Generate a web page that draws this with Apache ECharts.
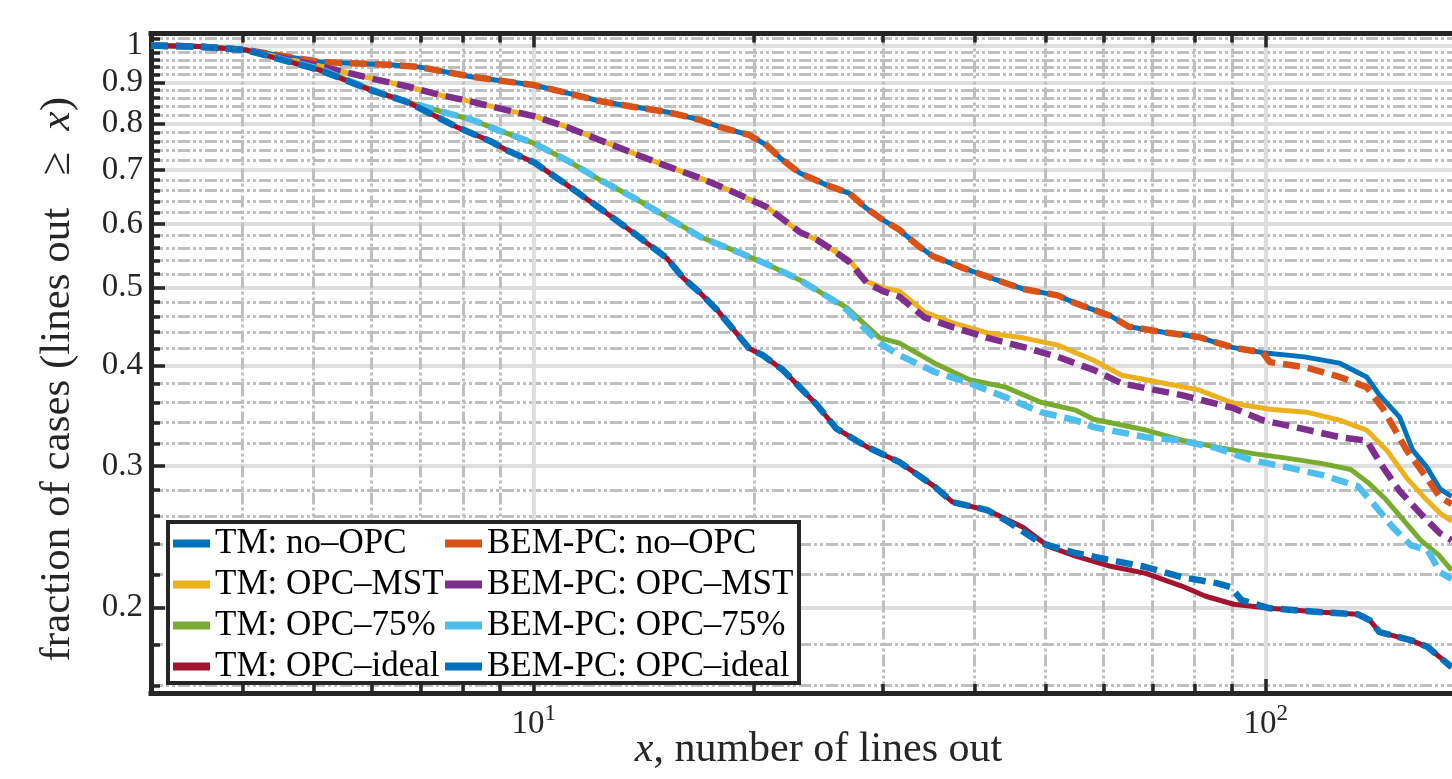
<!DOCTYPE html>
<html><head><meta charset="utf-8">
<script src="https://cdn.jsdelivr.net/npm/echarts@6/dist/echarts.min.js"></script>
<style>html,body{margin:0;padding:0;background:#fff}#c{width:1452px;height:779px}</style>
</head><body><div id="c"></div>
<script>
// ---- tick values ----
const xMajorTicks = [10, 100];
const xMinorTicks = [4, 5, 6, 7, 8, 9, 20, 30, 40, 50, 60, 70, 80, 90];
const yMajorTicks = [0.2, 0.3, 0.4, 0.5, 0.6, 0.7, 0.8, 0.9, 1];
const yMinorTicks = [0.16, 0.18, 0.22, 0.24, 0.26, 0.28, 0.32, 0.34, 0.36, 0.38,
  0.42, 0.44, 0.46, 0.48, 0.52, 0.54, 0.56, 0.58, 0.62, 0.64, 0.66, 0.68,
  0.72, 0.74, 0.76, 0.78, 0.82, 0.84, 0.86, 0.88, 0.92, 0.94, 0.96, 0.98, 1.02];

// ---- series names ----
const seriesNames = ['TM: no–OPC', 'TM: OPC–MST', 'TM: OPC–75%', 'TM: OPC–ideal',
  'BEM-PC: no–OPC', 'BEM-PC: OPC–MST', 'BEM-PC: OPC–75%', 'BEM-PC: OPC–ideal'];

// ---- data: [x, fraction] ----
const tmNoOpc = [[3,1.0],[3.5,0.997],[4.05,0.987],[5.1,0.954],[6.42,0.946],[7.0,0.940],[8.25,0.914],[10,0.893],[11.1,0.873],[12.3,0.853],[13.65,0.839],[15.2,0.827],[16.9,0.808],[17.95,0.792],[19.7,0.774],[20.8,0.752],[21.9,0.720],[23.1,0.694],[25.1,0.671],[27.0,0.655],[28.5,0.627],[30.0,0.607],[31.6,0.590],[33.4,0.565],[35.1,0.547],[38.6,0.529],[42.9,0.511],[46.6,0.498],[52.0,0.489],[55.0,0.478],[61.4,0.461],[65.0,0.447],[72.6,0.440],[81.0,0.434],[85.7,0.427],[90.4,0.421],[99.1,0.415],[113.0,0.410],[126.2,0.4027],[137.4,0.3871],[143.1,0.3675],[152.4,0.3451],[158.8,0.3139],[166.0,0.299],[173.0,0.281],[179.5,0.275]];
const tmMst = [[3,1.0],[3.5,0.997],[4.05,0.987],[5.1,0.943],[6.03,0.909],[6.71,0.890],[7.44,0.868],[8.25,0.851],[9.19,0.831],[10,0.817],[11.1,0.792],[12.3,0.763],[13.65,0.735],[15.2,0.708],[16.9,0.684],[18.35,0.663],[19.7,0.644],[20.8,0.630],[21.9,0.608],[23.1,0.586],[24.4,0.573],[25.6,0.557],[27.0,0.541],[28.5,0.509],[30.0,0.4995],[31.6,0.495],[34.2,0.466],[37.35,0.452],[41.7,0.439],[46.6,0.433],[52.0,0.424],[58.2,0.406],[63.6,0.389],[68.6,0.384],[81.0,0.373],[90.4,0.359],[101.3,0.353],[113.8,0.350],[126.2,0.342],[137.4,0.3325],[146.3,0.3139],[155.8,0.290],[166.0,0.2721],[173.0,0.2621],[179.5,0.2562]];
const tm75 = [[3,1.0],[3.5,0.997],[4.05,0.987],[5.1,0.935],[6.03,0.880],[6.71,0.851],[7.44,0.829],[8.25,0.808],[9.0,0.783],[10,0.756],[11.1,0.720],[12.3,0.681],[13.65,0.648],[15.2,0.612],[16.9,0.578],[18.7,0.557],[20.8,0.535],[23.1,0.511],[25.6,0.483],[26.8,0.472],[28.2,0.452],[29.7,0.433],[31.6,0.4265],[35.3,0.4027],[39.4,0.384],[44.1,0.376],[49.3,0.360],[55.0,0.352],[58.2,0.343],[68.6,0.3325],[76.8,0.323],[85.7,0.3166],[95.7,0.311],[106.8,0.3068],[119.6,0.302],[130.7,0.297],[137.8,0.2864],[145.8,0.2729],[154.3,0.2569],[162.8,0.2426],[172.4,0.2324],[179.5,0.2225]];
const tmIdeal = [[3,1.0],[3.5,0.997],[4.05,0.987],[5.1,0.932],[6.03,0.878],[6.71,0.851],[7.28,0.820],[7.85,0.792],[8.71,0.761],[9.19,0.741],[10,0.716],[11.1,0.671],[12.3,0.628],[13.65,0.586],[15.2,0.544],[16.0,0.514],[16.9,0.492],[17.8,0.469],[19.7,0.420],[20.55,0.412],[21.9,0.395],[24.4,0.357],[25.9,0.334],[28.5,0.317],[31.6,0.3033],[35.3,0.2828],[37.35,0.2705],[41.7,0.2643],[46.6,0.2518],[50.4,0.2385],[55.0,0.2317],[61.4,0.2251],[68.6,0.2206],[76.8,0.2127],[82.8,0.2066],[90.4,0.2019],[101.3,0.1996],[119.6,0.1973],[133.6,0.1962],[138.7,0.1929],[143.1,0.1864],[157.8,0.1822],[166.5,0.1786],[173.0,0.1735],[179.5,0.1686]];
const bemNoOpc = [[3,1.0],[3.5,0.997],[4.05,0.987],[5.1,0.954],[6.42,0.946],[7.0,0.940],[8.25,0.914],[10,0.893],[11.1,0.873],[12.3,0.853],[13.65,0.839],[15.2,0.827],[16.9,0.808],[17.95,0.792],[19.7,0.774],[20.8,0.752],[21.9,0.720],[23.1,0.694],[25.1,0.671],[27.0,0.655],[28.5,0.627],[30.0,0.607],[31.6,0.590],[33.4,0.565],[35.1,0.547],[38.6,0.529],[42.9,0.511],[46.6,0.498],[52.0,0.489],[55.0,0.478],[61.4,0.461],[65.0,0.447],[72.6,0.440],[81.0,0.434],[85.7,0.427],[90.4,0.421],[99.1,0.415],[101.3,0.4039],[113.0,0.3982],[126.2,0.3871],[137.4,0.376],[144.5,0.354],[155.8,0.3139],[166.0,0.290],[173.0,0.2744],[179.5,0.269]];
const bemMst = [[3,1.0],[3.5,0.997],[4.05,0.987],[5.1,0.943],[6.03,0.909],[6.71,0.890],[7.44,0.868],[8.25,0.851],[9.19,0.831],[10,0.817],[11.1,0.792],[12.3,0.763],[13.65,0.735],[15.2,0.708],[16.9,0.684],[18.35,0.663],[19.7,0.644],[20.8,0.630],[21.9,0.608],[23.1,0.586],[24.4,0.573],[25.6,0.557],[27.0,0.538],[28.5,0.507],[30.0,0.495],[31.6,0.487],[34.2,0.459],[37.35,0.4465],[41.7,0.433],[46.6,0.422],[52.0,0.410],[58.2,0.395],[63.6,0.380],[76.8,0.3675],[90.4,0.354],[99.1,0.342],[111.3,0.3343],[126.2,0.3258],[137.4,0.3226],[143.6,0.302],[152.4,0.2792],[166.0,0.2569],[173.0,0.2474],[179.5,0.2425]];
const bem75 = [[3,1.0],[3.5,0.997],[4.05,0.987],[5.1,0.935],[6.03,0.880],[6.71,0.851],[7.44,0.829],[8.25,0.808],[9.0,0.783],[10,0.756],[11.1,0.720],[12.3,0.681],[13.65,0.648],[15.2,0.612],[16.9,0.578],[18.7,0.557],[20.8,0.535],[23.1,0.511],[25.6,0.483],[26.8,0.469],[28.2,0.4465],[29.7,0.4265],[31.6,0.412],[35.3,0.3926],[39.4,0.3803],[44.1,0.3653],[49.3,0.350],[55.0,0.342],[58.2,0.3353],[68.6,0.3258],[76.8,0.3226],[85.7,0.3157],[95.7,0.305],[106.8,0.299],[119.6,0.2922],[133.6,0.2832],[140.9,0.2682],[149.1,0.2518],[157.8,0.2392],[166.5,0.2358],[173.0,0.2214],[179.5,0.217]];
const bemIdeal = [[3,1.0],[3.5,0.997],[4.05,0.987],[5.1,0.932],[6.03,0.878],[6.71,0.851],[7.28,0.820],[7.85,0.792],[8.71,0.761],[9.19,0.741],[10,0.716],[11.1,0.671],[12.3,0.628],[13.65,0.586],[15.2,0.544],[16.0,0.514],[16.9,0.492],[17.8,0.469],[19.7,0.420],[20.55,0.412],[21.9,0.395],[24.4,0.357],[25.9,0.334],[28.5,0.317],[31.6,0.3033],[35.3,0.2828],[37.35,0.2705],[41.7,0.2643],[44.1,0.2569],[49.3,0.2406],[55.0,0.2338],[61.4,0.2291],[68.6,0.2246],[76.8,0.2182],[85.7,0.2145],[89.6,0.212],[92.7,0.2043],[101.3,0.1996],[119.6,0.1973],[133.6,0.1962],[138.7,0.1929],[143.1,0.1864],[157.8,0.1822],[166.5,0.1786],[173.0,0.1735],[179.5,0.1686]];

const seriesData = [tmNoOpc, tmMst, tm75, tmIdeal, bemNoOpc, bemMst, bem75, bemIdeal];
const seriesColors = ['#0072BD', '#EDB120', '#77AC30', '#A2142F', '#D95319', '#7E2F8E', '#4DBEEE', '#0072BD'];

const FONT = "'Liberation Serif', 'Times New Roman', serif";
const AX = '#262626';
const X_MIN = 3, X_MAX = 200, Y_MIN = 0.1566, Y_MAX = 1.035;
const minorDash = [12, 3, 3, 3, 3, 3];
const MINOR_GRID = '#bfbfbf';
const MAJOR_GRID = '#dedede';

function xAxisDef(pos, major, withLine) {
  return {
    type: 'log', logBase: 10, min: X_MIN, max: X_MAX, position: pos, gridIndex: 0,
    axisLine: { show: withLine, onZero: false, lineStyle: { color: AX, width: 5, cap: 'square' } },
    axisTick: { show: true, inside: true, length: major ? 14 : 9, customValues: major ? xMajorTicks : xMinorTicks,
      lineStyle: { color: AX, width: 3.5 } },
    minorTick: { show: false },
    axisLabel: { show: false },
    splitLine: { show: pos === 'bottom', lineStyle: major ? { color: MAJOR_GRID, width: 4 } : { color: MINOR_GRID, width: 3, type: minorDash } },
    minorSplitLine: { show: false }
  };
}

const xAxes = [xAxisDef('bottom', false, false), xAxisDef('bottom', true, true), xAxisDef('top', false, false), xAxisDef('top', true, true)];
xAxes[1].axisLabel = {
  show: true, customValues: xMajorTicks, margin: 9,
  formatter: v => '{b|10}{s|' + Math.round(Math.log10(v)) + '}',
  rich: {
    b: { fontFamily: FONT, fontSize: 33, color: AX, lineHeight: 44 },
    s: { fontFamily: FONT, fontSize: 23, color: AX, lineHeight: 20, verticalAlign: 'top' }
  }
};
xAxes[1].name = '{i|x}, number of lines out';
xAxes[1].nameLocation = 'middle';
xAxes[1].nameGap = 36;
xAxes[1].nameMoveOverlap = false;
xAxes[1].nameTextStyle = { fontFamily: FONT, fontSize: 42, color: AX,
  rich: { i: { fontFamily: FONT, fontSize: 42, fontStyle: 'italic', color: AX } } };

function yAxisDef(major) {
  return {
    type: 'log', logBase: 10, min: Y_MIN, max: Y_MAX, position: 'left', gridIndex: 0,
    axisLine: { show: major, onZero: false, lineStyle: { color: AX, width: 5, cap: 'square' } },
    axisTick: { show: true, inside: true, length: major ? 14 : 9, customValues: major ? yMajorTicks : yMinorTicks,
      lineStyle: { color: AX, width: 3.5 } },
    minorTick: { show: false },
    axisLabel: { show: false },
    splitLine: { show: true, lineStyle: major ? { color: MAJOR_GRID, width: 4 } : { color: MINOR_GRID, width: 3, type: minorDash } },
    minorSplitLine: { show: false }
  };
}
const yAxes = [yAxisDef(false), yAxisDef(true)];
yAxes[1].axisLabel = {
  show: true, customValues: yMajorTicks, margin: 8,
  fontFamily: FONT, fontSize: 33, color: AX,
  formatter: v => String(Math.round(v * 10) / 10)
};
yAxes[1].name = 'fraction of cases (lines out \u2002≥\u2002{i|x})';
yAxes[1].nameLocation = 'middle';
yAxes[1].nameGap = 72;
yAxes[1].nameMoveOverlap = false;
yAxes[1].nameTextStyle = { fontFamily: FONT, fontSize: 43, color: AX, padding: [0, 32, 0, 0],
  rich: { i: { fontFamily: FONT, fontSize: 43, fontStyle: 'italic', color: AX } } };

const series = seriesData.map((d, i) => ({
  type: 'line', name: seriesNames[i], data: d, xAxisIndex: 0, yAxisIndex: 0,
  showSymbol: false, symbol: 'none', clip: true,
  lineStyle: { color: seriesColors[i], width: i < 4 ? 5 : 6.5, type: i < 4 ? 'solid' : [17, 8] },
  itemStyle: { color: seriesColors[i], borderWidth: 0 }
}));

const legendCommon = {
  orient: 'vertical', top: 526, itemWidth: 37, itemHeight: 8, itemGap: 6, icon: 'rect',
  padding: 0, selectedMode: false, z: 20,
  itemStyle: { borderWidth: 0 },
  textStyle: { fontFamily: FONT, fontSize: 35, color: '#000', lineHeight: 32 }
};

const chart = echarts.init(document.getElementById('c'), null, { renderer: 'canvas' });
chart.setOption({
  animation: false,
  backgroundColor: '#fff',
  grid: { left: 151, width: 1335, top: 33.5, bottom: 86, containLabel: false, outerBoundsMode: 'none' },
  xAxis: xAxes,
  yAxis: yAxes,
  legend: [
    Object.assign({}, legendCommon, { left: 173, data: seriesNames.slice(0, 4) }),
    Object.assign({}, legendCommon, { left: 445, data: seriesNames.slice(4) })
  ],
  graphic: [{
    type: 'rect', z: 15,
    shape: { x: 168, y: 522, width: 631, height: 161 },
    style: { fill: '#fff', stroke: AX, lineWidth: 4 }
  }],
  series: series
});
</script></body></html>
